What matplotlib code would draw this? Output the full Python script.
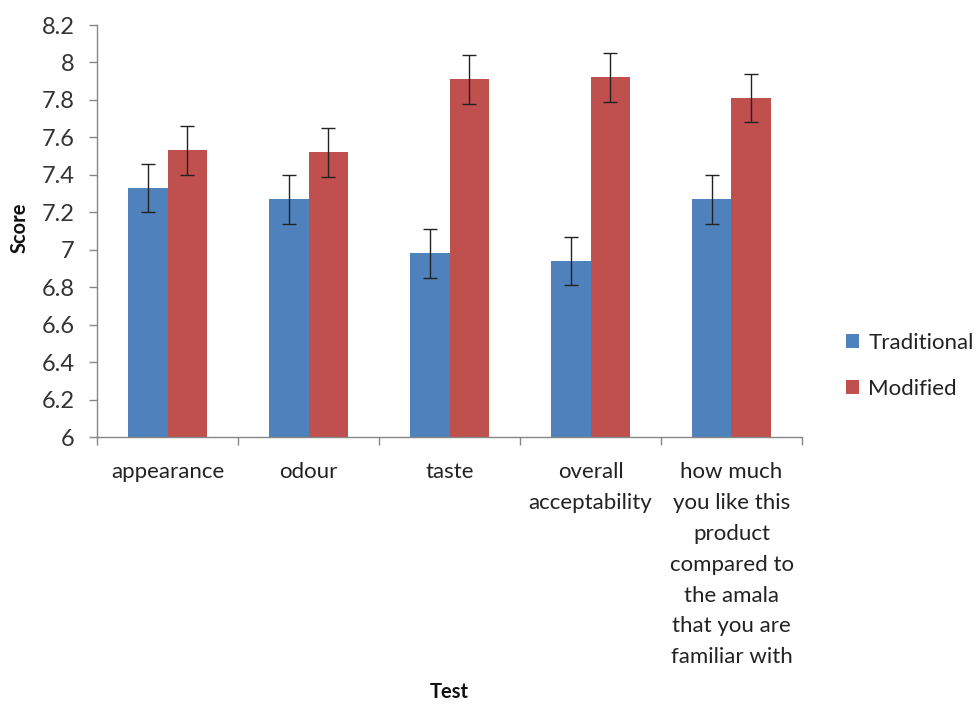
import matplotlib
matplotlib.use("Agg")
import matplotlib.pyplot as plt
import numpy as np
from matplotlib.ticker import FuncFormatter, MultipleLocator

categories = ["appearance", "odour", "taste", "overall\nacceptability",
              "how much\nyou like this\nproduct\ncompared to\nthe amala\nthat you are\nfamiliar with"]
traditional = [7.33, 7.27, 6.98, 6.94, 7.27]
modified = [7.53, 7.52, 7.91, 7.92, 7.81]
trad_err = [0.13, 0.13, 0.13, 0.13, 0.13]
mod_err = [0.13, 0.13, 0.13, 0.13, 0.13]
series_names = ["Traditional", "Modified"]

plt.rcParams['font.family'] = ['Lato', 'DejaVu Sans']
FS = 16

fig = plt.figure(figsize=(9.76, 7.04), dpi=100)
ax = fig.add_axes([97/976, 1-437/704, (802-97)/976, (437-25)/704])

x = np.arange(len(categories))
w = 0.28
blue = "#4F81BD"
red = "#C0504D"
ax.bar(x - w/2, traditional, w, color=blue, label=series_names[0], zorder=2)
ax.bar(x + w/2, modified, w, color=red, label=series_names[1], zorder=2)
ax.errorbar(x - w/2, traditional, yerr=trad_err, fmt='none', ecolor='#222222',
            elinewidth=1.0, capsize=5, capthick=1.0, zorder=3)
ax.errorbar(x + w/2, modified, yerr=mod_err, fmt='none', ecolor='#222222',
            elinewidth=1.0, capsize=5, capthick=1.0, zorder=3)

ax.set_ylim(6, 8.2)
ax.set_xlim(-0.5, len(categories) - 0.5)
ax.yaxis.set_major_locator(MultipleLocator(0.2))
ax.yaxis.set_major_formatter(FuncFormatter(lambda v, p: f"{v:.1f}".rstrip('0').rstrip('.')))

ax.set_xticks(x)
ax.set_xticklabels(categories, fontsize=FS, linespacing=1.68, color="#222222")
ax.set_xticks(np.arange(-0.5, len(categories), 1.0), minor=True)
ax.tick_params(axis='x', which='major', length=0, pad=18)
ax.tick_params(axis='x', which='minor', length=6, color='#868686', width=1)
ax.tick_params(axis='y', length=6, color='#868686', width=1, labelsize=FS + 1,
               labelcolor="#333333", pad=10)

for s in ['top', 'right']:
    ax.spines[s].set_visible(False)
for s in ['left', 'bottom']:
    ax.spines[s].set_color('#868686')
    ax.spines[s].set_linewidth(1)

fig.text(20/976, 1-228/704, "Score", rotation=90, fontsize=FS - 1.5, fontweight='bold',
         ha='center', va='center', color="#111111")
fig.text(449/976, 1-692/704, "Test", fontsize=FS - 1.5, fontweight='bold',
         ha='center', va='center', color="#111111")

fig.legend(loc='center left', bbox_to_anchor=(826/976, 1-366/704), frameon=False,
           fontsize=FS, handlelength=0.6, handleheight=0.6, handletextpad=0.4,
           labelspacing=1.15, labelcolor="#222222")

fig.savefig("out.png", dpi=100, facecolor='white')
